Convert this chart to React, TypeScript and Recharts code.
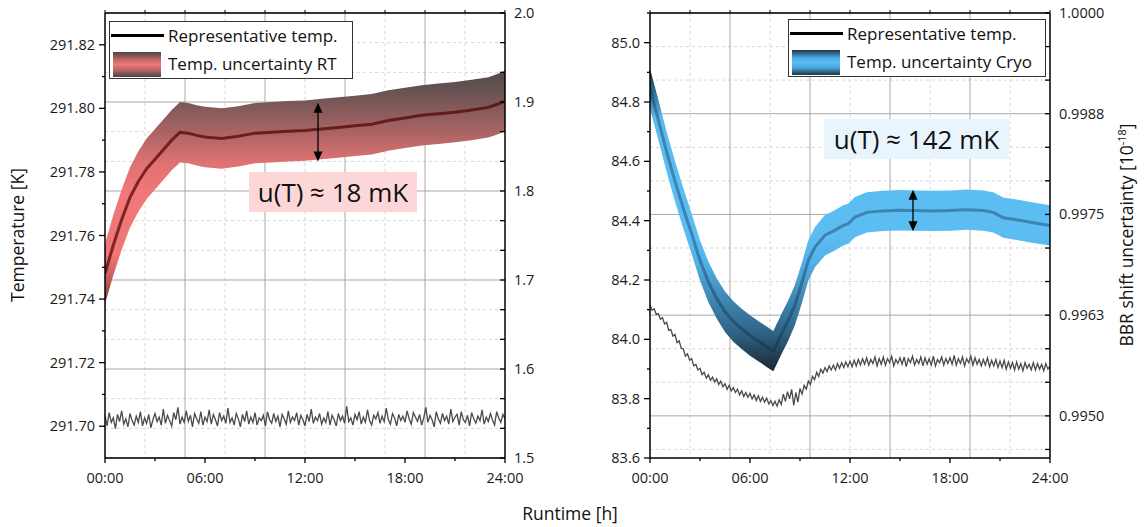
import React from "react";
import {
  Area,
  CartesianGrid,
  ComposedChart,
  Line,
  ReferenceLine,
  XAxis,
  YAxis,
} from "recharts";

const FONT = '"Open Sans", "Noto Sans", sans-serif';

// shared time axis
const hourTicks = [0, 3, 6, 9, 12, 15, 18, 21, 24];
const hourLabels = [0, 6, 12, 18, 24];
const gridMajorHours = [4.8, 9.6, 14.4, 19.2];
const gridMinorHours = [2.4, 7.2, 12, 16.8, 21.6];
const topTickHours = [0, 2.4, 4.8, 7.2, 9.6, 12, 14.4, 16.8, 19.2, 21.6, 24];

// noisy BBR traces, sampled every 7.5 min (one row per hour)
const noiseHours = [
  0, 0.125, 0.25, 0.375, 0.5, 0.625, 0.75, 0.875,
  1, 1.125, 1.25, 1.375, 1.5, 1.625, 1.75, 1.875,
  2, 2.125, 2.25, 2.375, 2.5, 2.625, 2.75, 2.875,
  3, 3.125, 3.25, 3.375, 3.5, 3.625, 3.75, 3.875,
  4, 4.125, 4.25, 4.375, 4.5, 4.625, 4.75, 4.875,
  5, 5.125, 5.25, 5.375, 5.5, 5.625, 5.75, 5.875,
  6, 6.125, 6.25, 6.375, 6.5, 6.625, 6.75, 6.875,
  7, 7.125, 7.25, 7.375, 7.5, 7.625, 7.75, 7.875,
  8, 8.125, 8.25, 8.375, 8.5, 8.625, 8.75, 8.875,
  9, 9.125, 9.25, 9.375, 9.5, 9.625, 9.75, 9.875,
  10, 10.125, 10.25, 10.375, 10.5, 10.625, 10.75, 10.875,
  11, 11.125, 11.25, 11.375, 11.5, 11.625, 11.75, 11.875,
  12, 12.125, 12.25, 12.375, 12.5, 12.625, 12.75, 12.875,
  13, 13.125, 13.25, 13.375, 13.5, 13.625, 13.75, 13.875,
  14, 14.125, 14.25, 14.375, 14.5, 14.625, 14.75, 14.875,
  15, 15.125, 15.25, 15.375, 15.5, 15.625, 15.75, 15.875,
  16, 16.125, 16.25, 16.375, 16.5, 16.625, 16.75, 16.875,
  17, 17.125, 17.25, 17.375, 17.5, 17.625, 17.75, 17.875,
  18, 18.125, 18.25, 18.375, 18.5, 18.625, 18.75, 18.875,
  19, 19.125, 19.25, 19.375, 19.5, 19.625, 19.75, 19.875,
  20, 20.125, 20.25, 20.375, 20.5, 20.625, 20.75, 20.875,
  21, 21.125, 21.25, 21.375, 21.5, 21.625, 21.75, 21.875,
  22, 22.125, 22.25, 22.375, 22.5, 22.625, 22.75, 22.875,
  23, 23.125, 23.25, 23.375, 23.5, 23.625, 23.75, 23.875,
  24,
];

// ---- room temperature panel ----
const rtHours = [
  0, 0.5, 1, 1.5, 2, 2.5, 3, 3.5, 4, 4.5, 5, 5.5, 6, 7, 8, 9, 10, 11, 12, 13, 14,
  15, 16, 17, 18, 19, 20, 21, 22, 23, 23.5, 24,
];
const rtTemp = [
  291.748, 291.757, 291.765, 291.772, 291.777, 291.781, 291.784, 291.787, 291.79,
  291.7925, 291.7922, 291.7915, 291.791, 291.7905, 291.7912, 291.7922, 291.7925,
  291.7928, 291.793, 291.7935, 291.794, 291.7945, 291.795, 291.7962, 291.797,
  291.7978, 291.7983, 291.7988, 291.7995, 291.8003, 291.8012, 291.8023,
];
const rtHalfWidth = 0.0095;
const rtShift = [
  1.548, 1.536, 1.551, 1.54, 1.545, 1.533, 1.549, 1.541,
  1.553, 1.538, 1.544, 1.535, 1.55, 1.542, 1.537, 1.547,
  1.54, 1.552, 1.536, 1.545, 1.539, 1.549, 1.534, 1.543,
  1.55, 1.541, 1.546, 1.537, 1.555, 1.539, 1.548, 1.542,
  1.536, 1.551, 1.543, 1.557, 1.538, 1.546, 1.54, 1.553,
  1.541, 1.548, 1.535, 1.55, 1.544, 1.539, 1.552, 1.537,
  1.546, 1.541, 1.554, 1.538, 1.549, 1.543, 1.536, 1.551,
  1.542, 1.547, 1.539, 1.556, 1.54, 1.545, 1.537, 1.55,
  1.544, 1.535, 1.549, 1.541, 1.553, 1.538, 1.546, 1.54,
  1.551, 1.537, 1.545, 1.542, 1.548, 1.536, 1.552, 1.543,
  1.539, 1.55, 1.541, 1.547, 1.535, 1.549, 1.544, 1.538,
  1.553, 1.54, 1.546, 1.542, 1.551, 1.537, 1.548, 1.543,
  1.536, 1.549, 1.541, 1.555, 1.539, 1.546, 1.542, 1.55,
  1.538, 1.545, 1.54, 1.552, 1.537, 1.548, 1.543, 1.536,
  1.55, 1.542, 1.547, 1.539, 1.558, 1.541, 1.545, 1.537,
  1.549, 1.543, 1.552, 1.538, 1.546, 1.54, 1.554, 1.542,
  1.537, 1.548, 1.544, 1.551, 1.539, 1.547, 1.541, 1.556,
  1.543, 1.538, 1.55, 1.545, 1.536, 1.549, 1.542, 1.547,
  1.54, 1.553, 1.544, 1.538, 1.551, 1.546, 1.541, 1.549,
  1.537, 1.545, 1.557, 1.54, 1.548, 1.543, 1.535, 1.552,
  1.544, 1.539, 1.55, 1.542, 1.547, 1.538, 1.555, 1.541,
  1.546, 1.549, 1.537, 1.552, 1.543, 1.54, 1.548, 1.536,
  1.551, 1.544, 1.539, 1.547, 1.542, 1.554, 1.538, 1.546,
  1.541, 1.55, 1.543, 1.537, 1.552, 1.545, 1.54, 1.549,
  1.544,
];
const rtTempTicks = [291.7, 291.72, 291.74, 291.76, 291.78, 291.8, 291.82];
const rtTempMinor = [291.71, 291.73, 291.75, 291.77, 291.79, 291.81];
const rtShiftTicks = [1.5, 1.6, 1.7, 1.8, 1.9, 2.0];
const rtShiftMinor = [
  1.5333, 1.5667, 1.6333, 1.6667, 1.7333, 1.7667, 1.8333, 1.8667, 1.9333, 1.9667,
];

// ---- cryogenic panel ----
const cryoHours = [
  0, 0.5, 1, 1.5, 2, 2.5, 3, 3.5, 4, 4.5, 5, 5.5, 6, 6.5, 7, 7.4, 7.9, 8.3, 8.7,
  9.1, 9.5, 9.9, 10.5, 11, 11.6, 11.9, 12.3, 13, 14, 15, 16, 17, 18, 19, 20, 20.6,
  21.2, 22, 23, 24,
];
const cryoTemp = [
  84.845, 84.74, 84.632, 84.533, 84.441, 84.356, 84.266, 84.194, 84.138, 84.093,
  84.06, 84.035, 84.013, 83.994, 83.975, 83.96, 84.019, 84.064, 84.116, 84.188,
  84.266, 84.311, 84.351, 84.365, 84.384, 84.39, 84.412, 84.428, 84.433, 84.435,
  84.434, 84.433, 84.434, 84.437, 84.434, 84.428, 84.41, 84.403, 84.393, 84.384,
];
const cryoHalfWidth = 0.068;
const cryoShift = [
  0.99638, 0.99631, 0.99633, 0.99626, 0.99627, 0.9962, 0.99622, 0.99614,
  0.99616, 0.99606, 0.99607, 0.99599, 0.99601, 0.99591, 0.99593, 0.99584,
  0.99583, 0.99574, 0.99577, 0.99569, 0.99571, 0.99562, 0.99564, 0.99557,
  0.99559, 0.99551, 0.99554, 0.99547, 0.99551, 0.99544, 0.99548, 0.99542,
  0.99546, 0.99539, 0.99543, 0.99536, 0.9954, 0.99533, 0.99538, 0.99531,
  0.99535, 0.99529, 0.99533, 0.99526, 0.99531, 0.99524, 0.99529, 0.99523,
  0.99528, 0.99521, 0.99526, 0.99519, 0.99525, 0.99518, 0.99523, 0.99517,
  0.99522, 0.99515, 0.99519, 0.99513, 0.99518, 0.99512, 0.9952, 0.99514,
  0.99527, 0.99518, 0.9953, 0.99521, 0.99533, 0.99513, 0.99529, 0.99517,
  0.99534, 0.99527, 0.99538, 0.99533, 0.99543, 0.99539, 0.99549, 0.99545,
  0.99554, 0.99549, 0.99558, 0.99553, 0.9956, 0.99555, 0.99562, 0.99557,
  0.99563, 0.99557, 0.99565, 0.99559, 0.99566, 0.9956, 0.99567, 0.99561,
  0.99568, 0.99561, 0.99569, 0.99562, 0.9957, 0.99563, 0.99571, 0.99564,
  0.99572, 0.99563, 0.9957, 0.99565, 0.99573, 0.99562, 0.99571, 0.99564,
  0.99573, 0.99563, 0.99571, 0.99566, 0.99574, 0.99562, 0.9957, 0.99565,
  0.99572, 0.99564, 0.99573, 0.99561, 0.99571, 0.99566, 0.99574, 0.99563,
  0.9957, 0.99565, 0.99573, 0.99562, 0.99572, 0.99564, 0.99571, 0.99563,
  0.99574, 0.99562, 0.9957, 0.99566, 0.99573, 0.99563, 0.99571, 0.99565,
  0.99572, 0.99564, 0.99575, 0.99563, 0.99571, 0.99565, 0.99573, 0.99562,
  0.99571, 0.99566, 0.99574, 0.99563, 0.99572, 0.99564, 0.9957, 0.99562,
  0.9957, 0.99563, 0.99572, 0.99561, 0.99569, 0.99562, 0.9957, 0.9956,
  0.99568, 0.9956, 0.99569, 0.99558, 0.99567, 0.99559, 0.99566, 0.99557,
  0.99567, 0.99558, 0.99565, 0.99556, 0.99566, 0.99559, 0.99564, 0.99557,
  0.99566, 0.99557, 0.99565, 0.99558, 0.99564, 0.99556, 0.99565, 0.99558,
  0.99562,
];
const cryoTempTicks = [83.6, 83.8, 84.0, 84.2, 84.4, 84.6, 84.8, 85.0];
const cryoTempMinor = [83.7, 83.9, 84.1, 84.3, 84.5, 84.7, 84.9, 85.1];
const cryoShiftTicks = [0.995, 0.99625, 0.9975, 0.99875, 1.0];
const cryoShiftLabels = ["0.9950", "0.9963", "0.9975", "0.9988", "1.0000"];
const cryoShiftMinor = [
  0.994583, 0.995417, 0.995833, 0.996667, 0.997083, 0.997917, 0.998333, 0.999167,
  0.999583,
];

const rtBand = rtHours.map((h, i) => ({
  h,
  t: rtTemp[i],
  range: [rtTemp[i] - rtHalfWidth, rtTemp[i] + rtHalfWidth],
}));
const rtNoise = noiseHours.map((h, i) => ({ h, v: rtShift[i] }));
const cryoBand = cryoHours.map((h, i) => ({
  h,
  t: cryoTemp[i],
  range: [cryoTemp[i] - cryoHalfWidth, cryoTemp[i] + cryoHalfWidth],
}));
const cryoNoise = noiseHours.map((h, i) => ({ h, v: cryoShift[i] }));

const sortNums = (a: number[], b: number[]) => [...a, ...b].sort((p, q) => p - q);
const isIn = (list: number[], v: number) => list.some((m) => Math.abs(m - v) < 1e-6);

const TICK_FONT = 14.5;

function bottomTick(props: any) {
  const { x, y, payload } = props;
  const major = isIn(hourLabels, payload.value);
  return (
    <g>
      <line x1={x} y1={y} x2={x} y2={y + (major ? 5 : 3)} stroke="#000" strokeWidth={1.3} />
      {major && (
        <text x={x} y={y + 25} textAnchor="middle" fontSize={TICK_FONT} fontFamily={FONT} fill="#1a1a1a">
          {String(payload.value).padStart(2, "0") + ":00"}
        </text>
      )}
    </g>
  );
}

function leftTick(majors: number[], fmt: (v: number) => string) {
  return (props: any) => {
    const { x, y, payload } = props;
    const major = isIn(majors, payload.value);
    return (
      <g>
        <line x1={x - (major ? 6 : 3)} y1={y} x2={x} y2={y} stroke="#000" strokeWidth={1.3} />
        {major && (
          <text x={x - 10} y={y + 5} textAnchor="end" fontSize={TICK_FONT} fontFamily={FONT} fill="#1a1a1a">
            {fmt(payload.value)}
          </text>
        )}
      </g>
    );
  };
}

function rightTick(majors: number[], fmt: (v: number) => string) {
  return (props: any) => {
    const { x, y, payload } = props;
    const major = isIn(majors, payload.value);
    return (
      <g>
        <line x1={x - 5} y1={y} x2={x} y2={y} stroke="#000" strokeWidth={1.3} />
        {major && (
          <text x={x + 9} y={y + 5} textAnchor="start" fontSize={TICK_FONT} fontFamily={FONT} fill="#1a1a1a">
            {fmt(payload.value)}
          </text>
        )}
      </g>
    );
  };
}

function ArrowShape(props: any) {
  const { x1, y1, y2 } = props;
  const top = Math.min(y1, y2);
  const bot = Math.max(y1, y2);
  const h = 10;
  const w = 4.5;
  return (
    <g>
      <line x1={x1} y1={top + h - 1} x2={x1} y2={bot - h + 1} stroke="#000" strokeWidth={1.3} />
      <path d={`M${x1},${top} L${x1 - w},${top + h} L${x1 + w},${top + h} Z`} fill="#000" />
      <path d={`M${x1},${bot} L${x1 - w},${bot - h} L${x1 + w},${bot - h} Z`} fill="#000" />
    </g>
  );
}

const AXIS_LINE = { stroke: "#000", strokeWidth: 1.5 };

type PanelProps = {
  left: number;
  margin: { top: number; right: number; bottom: number; left: number };
  band: { h: number; t: number; range: number[] }[];
  noise: { h: number; v: number }[];
  gradId: string;
  gradStops: [number, string][];
  gradY: [number, number];
  lineColor: string;
  leftDomain: [number, number];
  leftTicks: number[];
  leftMinor: number[];
  leftFmt: (v: number) => string;
  rightDomain: [number, number];
  rightTicks: number[];
  rightMinor: number[];
  rightFmt: (v: number) => string;
  arrow: { x: number; y1: number; y2: number };
};

function Panel(p: PanelProps) {
  return (
    <div style={{ position: "absolute", left: p.left, top: 0 }}>
      <ComposedChart width={572} height={527} margin={p.margin}>
        <defs>
          <linearGradient id={p.gradId} gradientUnits="userSpaceOnUse" x1={0} y1={p.gradY[0]} x2={0} y2={p.gradY[1]}>
            {p.gradStops.map(([o, c]) => (
              <stop key={o} offset={o} stopColor={c} />
            ))}
          </linearGradient>
        </defs>
        <CartesianGrid
          yAxisId="right"
          horizontalValues={p.rightMinor}
          verticalValues={gridMinorHours}
          stroke="#d6d6d6"
          strokeDasharray="3 3"
        />
        <CartesianGrid
          yAxisId="right"
          horizontalValues={p.rightTicks}
          verticalValues={gridMajorHours}
          stroke="#a8a8a8"
          strokeWidth={1}
        />
        <XAxis
          dataKey="h"
          type="number"
          domain={[0, 24]}
          allowDataOverflow
          ticks={hourTicks}
          interval={0}
          tickSize={0}
          tickMargin={0}
          tickLine={false}
          tick={bottomTick}
          axisLine={AXIS_LINE}
          height={30}
        />
        <XAxis
          xAxisId="top"
          orientation="top"
          dataKey="h"
          type="number"
          domain={[0, 24]}
          allowDataOverflow
          ticks={topTickHours}
          interval={0}
          tickSize={3}
          tickFormatter={() => ""}
          tickLine={{ stroke: "#000" }}
          axisLine={AXIS_LINE}
          height={1}
        />
        <YAxis
          yAxisId="left"
          type="number"
          domain={p.leftDomain}
          allowDataOverflow
          ticks={sortNums(p.leftTicks, p.leftMinor)}
          interval={0}
          tickSize={0}
          tickMargin={0}
          tickLine={false}
          tick={leftTick(p.leftTicks, p.leftFmt)}
          axisLine={AXIS_LINE}
          width={60}
        />
        <YAxis
          yAxisId="right"
          orientation="right"
          type="number"
          domain={p.rightDomain}
          allowDataOverflow
          ticks={sortNums(p.rightTicks, p.rightMinor)}
          interval={0}
          tickSize={0}
          tickMargin={0}
          tickLine={false}
          tick={rightTick(p.rightTicks, p.rightFmt)}
          axisLine={AXIS_LINE}
          width={60}
        />
        <Area
          data={p.band}
          yAxisId="left"
          dataKey="range"
          type="linear"
          stroke="none"
          fill={`url(#${p.gradId})`}
          fillOpacity={1}
          isAnimationActive={false}
          activeDot={false}
        />
        <Line
          data={p.band}
          yAxisId="left"
          dataKey="t"
          type="linear"
          stroke={p.lineColor}
          strokeWidth={3}
          dot={false}
          activeDot={false}
          isAnimationActive={false}
        />
        <Line
          data={p.noise}
          yAxisId="right"
          dataKey="v"
          type="linear"
          stroke="#4a4a4a"
          strokeWidth={1.3}
          dot={false}
          activeDot={false}
          isAnimationActive={false}
        />
        <ReferenceLine
          yAxisId="left"
          segment={[
            { x: p.arrow.x, y: p.arrow.y1 },
            { x: p.arrow.x, y: p.arrow.y2 },
          ]}
          shape={ArrowShape}
          ifOverflow="visible"
        />
      </ComposedChart>
    </div>
  );
}

const legendText: React.CSSProperties = {
  position: "absolute",
  fontSize: 17,
  lineHeight: "20px",
  color: "#111",
  whiteSpace: "nowrap",
};

function LegendBox(props: {
  left: number;
  top: number;
  width: number;
  label: string;
  swatch: string;
}) {
  return (
    <div
      style={{
        position: "absolute",
        left: props.left,
        top: props.top,
        width: props.width,
        height: 58,
        border: "1px solid #333",
        background: "#fff",
        boxSizing: "border-box",
      }}
    >
      <div style={{ position: "absolute", left: 1, top: 12, width: 53, height: 3, background: "#000" }} />
      <div style={{ ...legendText, left: 58, top: 4 }}>Representative temp.</div>
      <div style={{ position: "absolute", left: 3, top: 30, width: 48, height: 25, background: props.swatch }} />
      <div style={{ ...legendText, left: 58, top: 32 }}>{props.label}</div>
    </div>
  );
}

function Note(props: { left: number; top: number; width: number; bg: string; text: string }) {
  return (
    <div
      style={{
        position: "absolute",
        left: props.left,
        top: props.top,
        width: props.width,
        height: 40,
        background: props.bg,
        fontSize: 26,
        lineHeight: "40px",
        textAlign: "center",
        color: "#111",
        whiteSpace: "nowrap",
      }}
    >
      {props.text}
    </div>
  );
}

const axisTitle: React.CSSProperties = {
  position: "absolute",
  fontSize: 17.5,
  color: "#111",
  whiteSpace: "nowrap",
  transform: "translate(-50%, -50%)",
};

export default function App() {
  return (
    <div
      style={{
        position: "absolute",
        left: 0,
        top: 0,
        width: 1144,
        height: 527,
        background: "#fff",
        overflow: "hidden",
        fontFamily: FONT,
      }}
    >
      <Panel
        left={0}
        margin={{ top: 12, right: 7, bottom: 39, left: 45 }}
        band={rtBand}
        noise={rtNoise}
        gradId="rtFill"
        gradY={[60, 305]}
        gradStops={[
          [0, "#4a4646"],
          [0.12, "#665252"],
          [0.28, "#a46262"],
          [0.42, "#e07272"],
          [0.55, "#f17878"],
          [0.8, "#ef7676"],
          [0.9, "#c45a5a"],
          [1, "#7a3838"],
        ]}
        lineColor="rgba(80,0,0,0.7)"
        leftDomain={[291.69, 291.83]}
        leftTicks={rtTempTicks}
        leftMinor={rtTempMinor}
        leftFmt={(v) => v.toFixed(2)}
        rightDomain={[1.5, 2.0]}
        rightTicks={rtShiftTicks}
        rightMinor={rtShiftMinor}
        rightFmt={(v) => v.toFixed(1)}
        arrow={{ x: 12.78, y1: 291.8018, y2: 291.7833 }}
      />
      <Panel
        left={572}
        margin={{ top: 12, right: 34, bottom: 39, left: 18 }}
        band={cryoBand}
        noise={cryoNoise}
        gradId="cryoFill"
        gradY={[70, 372]}
        gradStops={[
          [0, "#1c3a50"],
          [0.07, "#2d6a8f"],
          [0.16, "#5bbcf2"],
          [0.55, "#5cbdf3"],
          [0.64, "#52b0e6"],
          [0.76, "#3f87b3"],
          [0.87, "#2f6385"],
          [1, "#1a2632"],
        ]}
        lineColor="rgba(10,40,70,0.38)"
        leftDomain={[83.6, 85.1]}
        leftTicks={cryoTempTicks}
        leftMinor={cryoTempMinor}
        leftFmt={(v) => v.toFixed(1)}
        rightDomain={[0.994477, 1.0]}
        rightTicks={cryoShiftTicks}
        rightMinor={cryoShiftMinor}
        rightFmt={(v) => cryoShiftLabels[cryoShiftTicks.findIndex((m) => Math.abs(m - v) < 1e-6)]}
        arrow={{ x: 15.78, y1: 84.5045, y2: 84.3644 }}
      />

      <LegendBox
        left={109}
        top={21}
        width={244}
        label="Temp. uncertainty RT"
        swatch="linear-gradient(to bottom, #4a4444 0%, #b86464 28%, #f07878 50%, #b86464 72%, #4a4444 100%)"
      />
      <LegendBox
        left={788}
        top={19}
        width={258}
        label="Temp. uncertainty Cryo"
        swatch="linear-gradient(to bottom, #1e3446 0%, #4aa6dc 30%, #5cbdf3 50%, #4aa6dc 70%, #1e3446 100%)"
      />

      <Note left={249} top={172} width={168} bg="#fdd7d7" text="u(T) ≈ 18 mK" />
      <Note left={824} top={119} width={185} bg="#e9f5fd" text="u(T) ≈ 142 mK" />

      <div style={{ ...axisTitle, left: 17, top: 235, transform: "translate(-50%, -50%) rotate(-90deg)" }}>
        Temperature [K]
      </div>
      <div style={{ ...axisTitle, left: 570, top: 513 }}>Runtime [h]</div>
      <div style={{ ...axisTitle, left: 1126, top: 235, transform: "translate(-50%, -50%) rotate(-90deg)" }}>
        BBR shift uncertainty [10<sup style={{ fontSize: "0.62em" }}>-18</sup>]
      </div>
    </div>
  );
}
